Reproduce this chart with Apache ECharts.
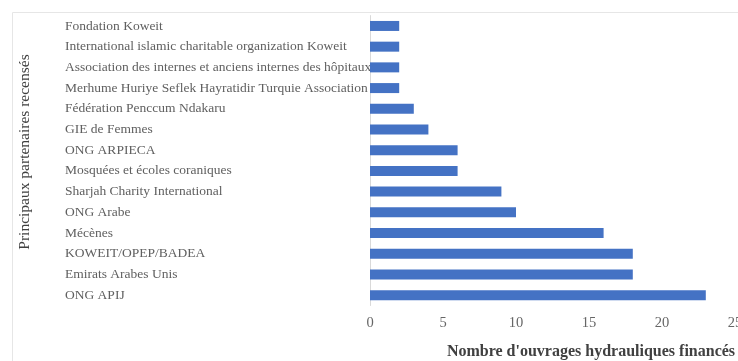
<!DOCTYPE html>
<html>
<head>
<meta charset="utf-8">
<script src="https://cdn.jsdelivr.net/npm/echarts@6/dist/echarts.min.js"></script>
<style>
html,body{margin:0;padding:0;background:#fff;}
#c{width:738px;height:361px;}
</style>
</head>
<body>
<div id="c"></div>
<script>
const categories = [
  "Fondation Koweit",
  "International islamic charitable organization Koweit",
  "Association des internes et anciens internes des hôpitaux",
  "Merhume Huriye Seflek Hayratidir Turquie Association",
  "Fédération Penccum Ndakaru",
  "GIE de Femmes",
  "ONG ARPIECA",
  "Mosquées et écoles coraniques",
  "Sharjah Charity International",
  "ONG Arabe",
  "Mécènes",
  "KOWEIT/OPEP/BADEA",
  "Emirats Arabes Unis",
  "ONG APIJ"
];
const values = [2, 2, 2, 2, 3, 4, 6, 6, 9, 10, 16, 18, 18, 23];
const xTicks = [0, 5, 10, 15, 20, 25];
const xTitle = "Nombre d'ouvrages hydrauliques financés";
const yTitle = "Principaux partenaires recensés";

const serif = "'Liberation Serif','DejaVu Serif',serif";
const chart = echarts.init(document.getElementById('c'), null, {renderer: 'canvas'});
chart.setOption({
  animation: false,
  backgroundColor: '#ffffff',
  grid: {left: 370, right: 3, top: 15.6, bottom: 55.5, containLabel: false, outerBoundsMode: 'none'},
  xAxis: {
    type: 'value', min: xTicks[0], max: xTicks[xTicks.length - 1], interval: 5,
    axisLine: {show: false}, axisTick: {show: false}, splitLine: {show: false},
    axisLabel: {show: true, showMaxLabel: true, margin: 10, color: '#666666', fontFamily: serif, fontSize: 14.5}
  },
  yAxis: {
    type: 'category', data: categories, inverse: true,
    axisLine: {show: true, lineStyle: {color: '#d9d9d9', width: 1}},
    axisTick: {show: false},
    axisLabel: {align: 'left', margin: 305, color: '#606060', fontFamily: serif, fontSize: 13.5}
  },
  series: [{
    type: 'bar', data: values, barWidth: 10,
    itemStyle: {color: '#4472C4'}
  }],
  graphic: [
    {type: 'rect', shape: {x: 12.5, y: 12.5, width: 800, height: 400}, style: {fill: 'none', stroke: '#e6e6e6', lineWidth: 1}, z: -1},
    {type: 'text', x: 25, y: 152, rotation: Math.PI / 2,
      style: {text: yTitle, fill: '#404040', font: '15.5px ' + serif, align: 'center', verticalAlign: 'middle'}},
    {type: 'text', x: 591, y: 352,
      style: {text: xTitle, fill: '#404040', font: 'bold 16px ' + serif, align: 'center', verticalAlign: 'middle'}}
  ]
});
</script>
</body>
</html>
